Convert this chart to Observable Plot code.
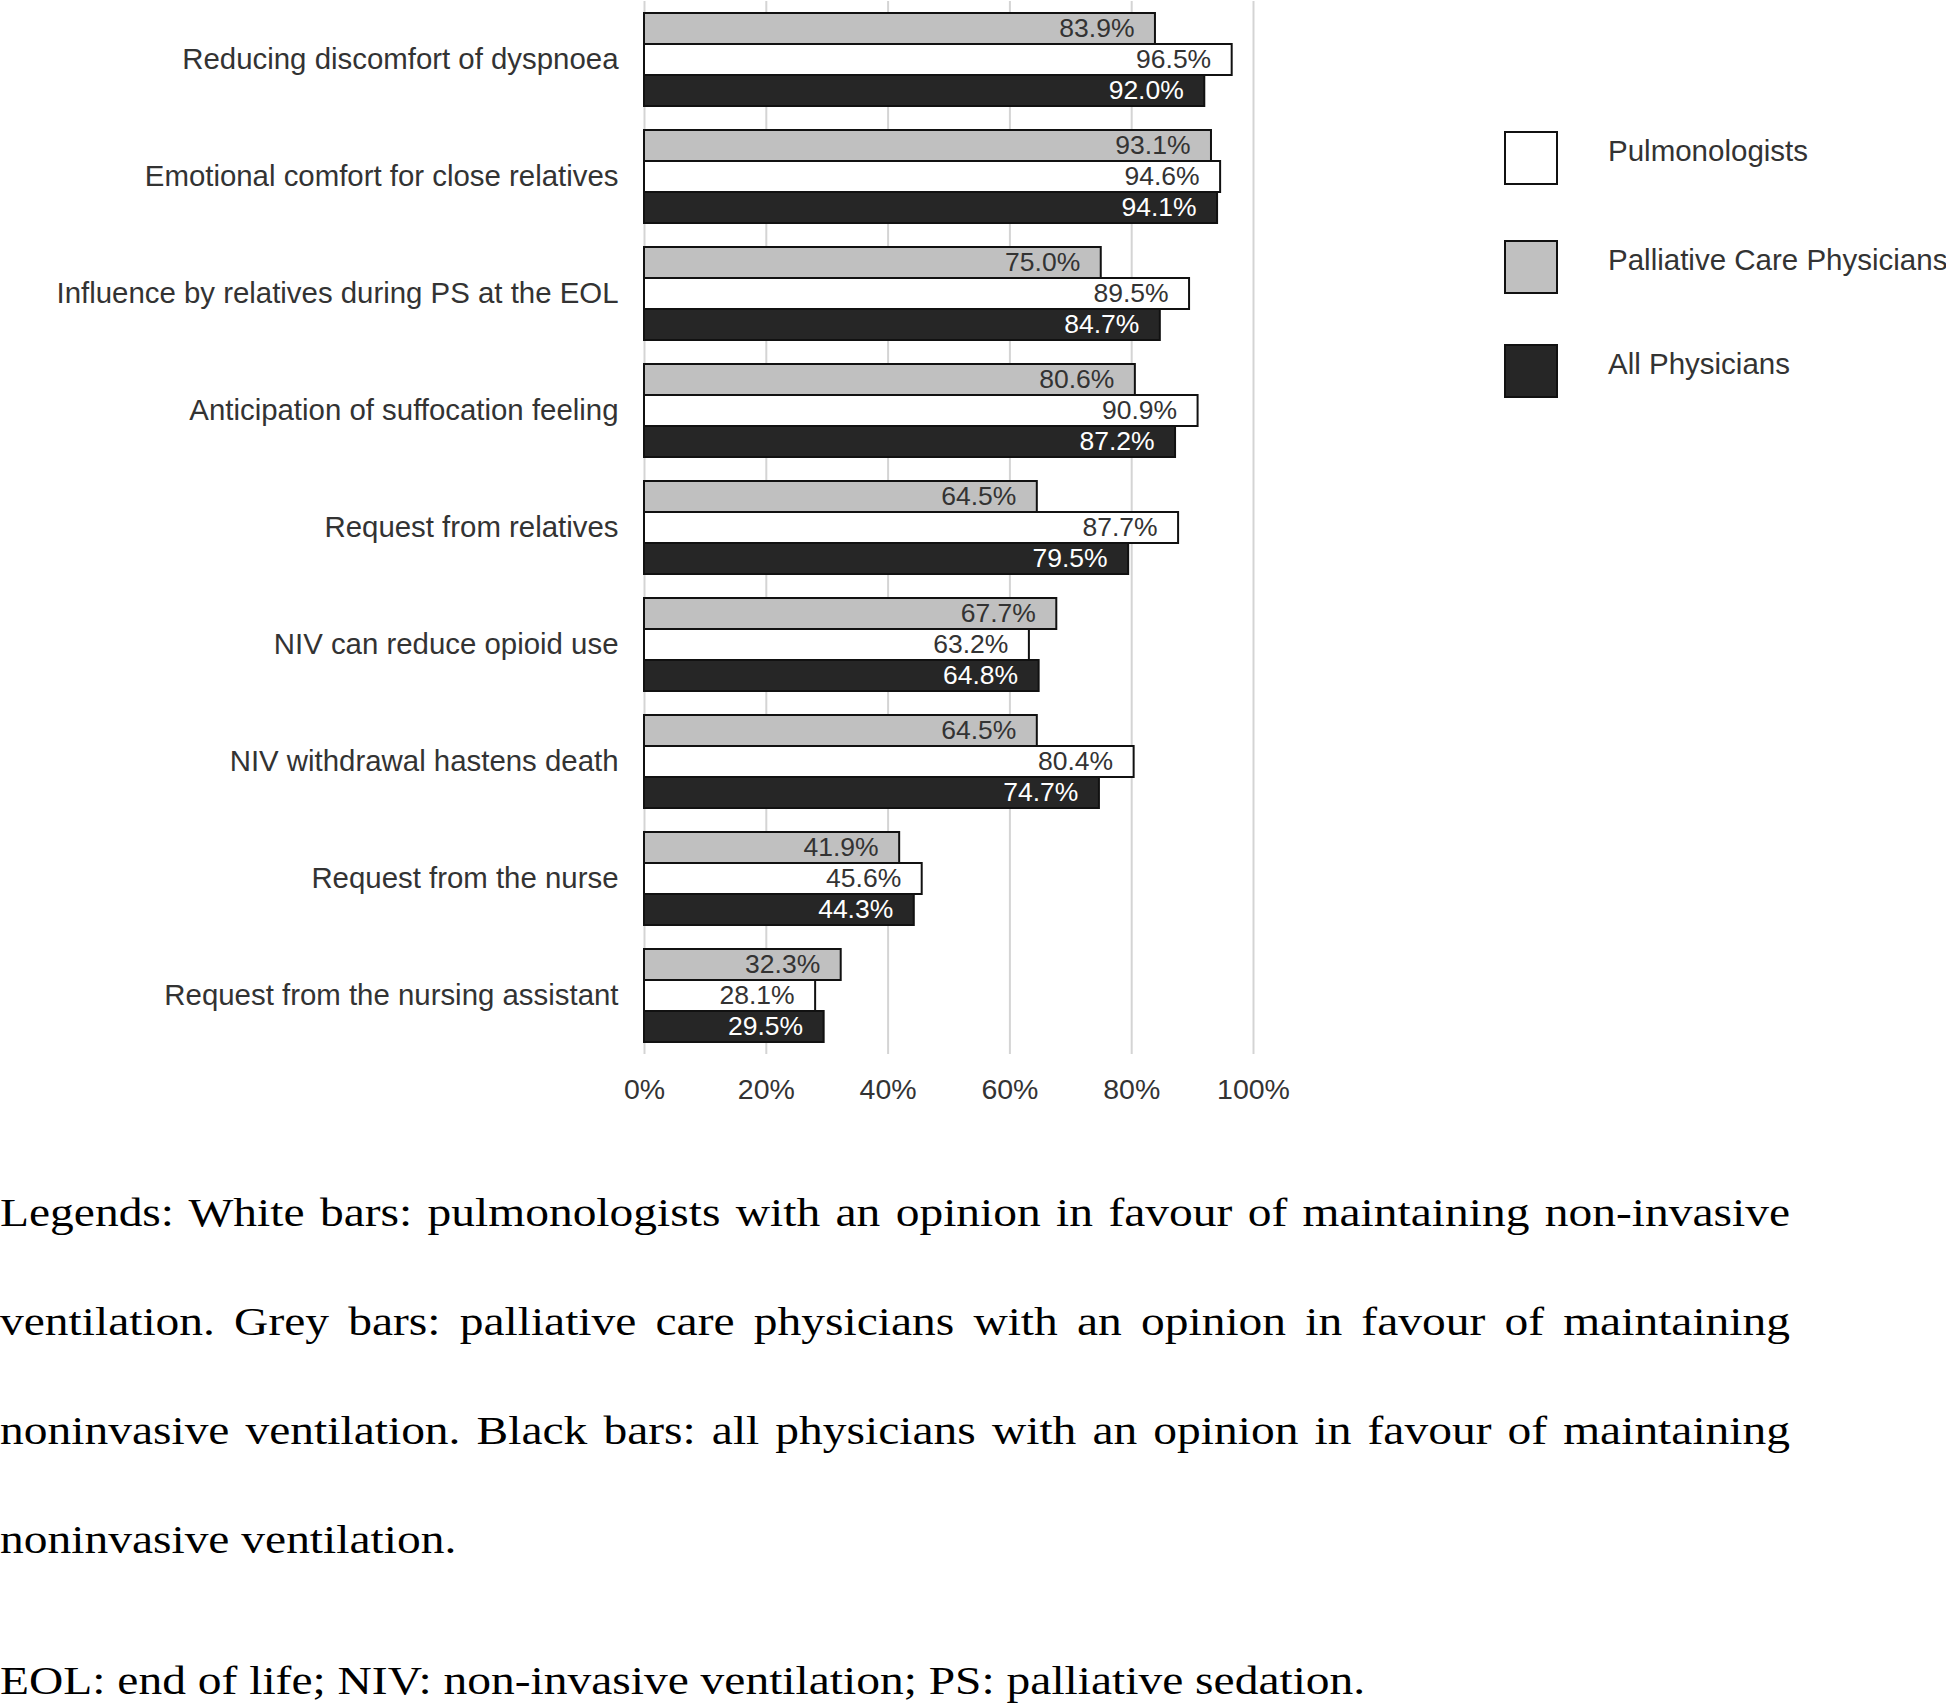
<!DOCTYPE html>
<html>
<head>
<meta charset="utf-8">
<script src="https://cdn.jsdelivr.net/npm/d3@7"></script>
<script src="https://cdn.jsdelivr.net/npm/@observablehq/plot@0.6"></script>
<style>
  html, body { margin: 0; padding: 0; background: #fff; }
  #wrap { position: relative; width: 1946px; height: 1705px; overflow: hidden; background: #fff; }
  #chart { position: absolute; left: 0; top: 0; }
  .leg-item { position: absolute; left: 1504px; height: 55px; display: flex; align-items: center; }
  .leg-sw { width: 50px; height: 50px; border: 2.5px solid #111; box-sizing: content-box; }
  .leg-tx { position: absolute; left: 104px; top: -7px; line-height: 55px; white-space: nowrap; font-family: "Liberation Sans", Arial, sans-serif; font-size: 29.5px; color: #333; }
  .cap { position: absolute; left: 0; width: 1508px; font-family: "Liberation Serif", "Times New Roman", serif; font-size: 40px; line-height: 109px; color: #000; text-align: justify; transform: scaleX(1.187); transform-origin: 0 0; }
</style>
</head>
<body>
<div id="wrap">
  <div id="chart"></div>
  <div id="legend"></div>
  <div class="cap" id="cap1" style="top:1158px;"></div>
  <div class="cap" id="cap2" style="top:1626px;"></div>
</div>
<script>
const categories = [
  "Reducing discomfort of dyspnoea",
  "Emotional comfort for close relatives",
  "Influence by relatives during PS at the EOL",
  "Anticipation of suffocation feeling",
  "Request from relatives",
  "NIV can reduce opioid use",
  "NIV withdrawal hastens death",
  "Request from the nurse",
  "Request from the nursing assistant"
];
const seriesNames = ["Palliative Care Physicians", "Pulmonologists", "All Physicians"];
const palliative     = [83.9, 93.1, 75.0, 80.6, 64.5, 67.7, 64.5, 41.9, 32.3];
const pulmonologists = [96.5, 94.6, 89.5, 90.9, 87.7, 63.2, 80.4, 45.6, 28.1];
const allPhysicians  = [92.0, 94.1, 84.7, 87.2, 79.5, 64.8, 74.7, 44.3, 29.5];
const xTicks = [0, 20, 40, 60, 80, 100];
const legendOrder = ["Pulmonologists", "Palliative Care Physicians", "All Physicians"];
const seriesColors = ["#c0c0c0", "#ffffff", "#262626"];
const labelColors = ["#333333", "#333333", "#ffffff"];

const seriesValues = [palliative, pulmonologists, allPhysicians];
const data = [];
categories.forEach((c, i) => {
  seriesNames.forEach((s, j) => {
    data.push({category: c, series: s, value: seriesValues[j][i]});
  });
});

const chart = Plot.plot({
  width: 1946,
  height: 1116,
  marginLeft: 644,
  marginRight: 693,
  marginTop: 0,
  marginBottom: 61,
  style: {fontFamily: "'Liberation Sans', Arial, sans-serif", fontSize: "28.5px", color: "#333", background: "transparent"},
  x: {domain: [0, 100], ticks: xTicks, tickFormat: d => d + "%", tickSize: 0, tickPadding: 24, label: null, grid: true},
  fy: {domain: categories, padding: 0, label: null, tickSize: 0, tickPadding: 26},
  y: {domain: seriesNames, paddingInner: 0.01, paddingOuter: 0.37, axis: null},
  color: {domain: seriesNames, range: seriesColors},
  marks: [
    Plot.barX(data, {fy: "category", y: "series", x: "value", fill: "series", stroke: "#111", strokeWidth: 2}),
    ...seriesNames.map((s, j) =>
      Plot.text(data.filter(d => d.series === s), {
        fy: "category", y: "series", x: "value",
        text: d => d.value.toFixed(1) + "%",
        textAnchor: "end", dx: -21, fill: labelColors[j], fontSize: 26.5
      })
    )
  ]
});
document.getElementById("chart").appendChild(chart);

// y (category) labels slightly larger
chart.querySelectorAll("[aria-label='fy-axis tick label'] text, [aria-label='fy-axis'] text").forEach(el => {
  el.setAttribute("font-size", "29.4");
  el.style.fontSize = "29.4px";
});

// grid styling
chart.querySelectorAll("[aria-label='x-grid'] line, [aria-label='x-grid'] path").forEach(el => {
  el.setAttribute("stroke", "#d4d4d4");
  el.setAttribute("stroke-opacity", "1");
  el.setAttribute("stroke-width", "2");
});

// legend
const legTops = [130, 239, 343];
const legend = document.getElementById("legend");
legendOrder.forEach((name, k) => {
  const item = document.createElement("div");
  item.className = "leg-item";
  item.style.top = legTops[k] + "px";
  const sw = document.createElement("div");
  sw.className = "leg-sw";
  sw.style.background = seriesColors[seriesNames.indexOf(name)];
  const tx = document.createElement("div");
  tx.className = "leg-tx";
  tx.textContent = name;
  item.appendChild(sw);
  item.appendChild(tx);
  legend.appendChild(item);
});

document.getElementById("cap1").textContent = "Legends: White bars: pulmonologists with an opinion in favour of maintaining non-invasive ventilation. Grey bars: palliative care physicians with an opinion in favour of maintaining noninvasive ventilation. Black bars: all physicians with an opinion in favour of maintaining noninvasive ventilation.";
document.getElementById("cap2").textContent = "EOL: end of life; NIV: non-invasive ventilation; PS: palliative sedation.";
</script>
</body>
</html>
